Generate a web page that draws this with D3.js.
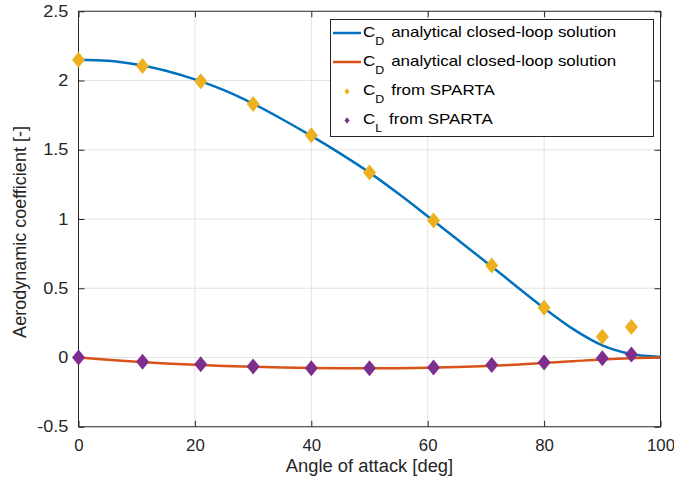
<!DOCTYPE html>
<html>
<head>
<meta charset="utf-8">
<script src="https://cdn.jsdelivr.net/npm/d3@7"></script>
<style>
  html, body { margin: 0; padding: 0; background: #fff; }
  svg { display: block; font-family: "Liberation Sans", Arial, Helvetica, sans-serif; }
</style>
</head>
<body>
<svg id="chart" width="674" height="484"></svg>
<script>
// Angle of attack (deg) for the SPARTA simulation points
const spartaAngles = [0, 11, 21, 30, 40, 50, 61, 71, 80, 90, 95];
const spartaCD = [2.15, 2.105, 1.995, 1.83, 1.605, 1.335, 0.99, 0.665, 0.36, 0.15, 0.22];
const spartaCL = [0, -0.03, -0.048, -0.065, -0.077, -0.078, -0.073, -0.055, -0.037, -0.005, 0.022];

// Analytical closed-loop solution, sampled every 5 deg
const curveAngles = [0, 5, 10, 15, 20, 25, 30, 35, 40, 45, 50, 55, 60, 65, 70, 75, 80, 85, 90, 95, 100];
const curveCD = [2.15, 2.142, 2.115, 2.07, 2.008, 1.93, 1.832, 1.72, 1.6, 1.472, 1.335, 1.182, 1.02, 0.855, 0.69, 0.522, 0.356, 0.205, 0.088, 0.025, 0.004];
const curveCL = [0, -0.017, -0.031, -0.043, -0.053, -0.061, -0.067, -0.072, -0.075, -0.077, -0.078, -0.077, -0.074, -0.069, -0.061, -0.052, -0.04, -0.027, -0.014, -0.005, 0];

const xTicks = [0, 20, 40, 60, 80, 100];
const yTicks = [-0.5, 0, 0.5, 1, 1.5, 2, 2.5];

const legendLabels = [
  { main: "C", sub: "D", rest: " analytical closed-loop solution", kind: "line", color: "#0072BD" },
  { main: "C", sub: "D", rest: " analytical closed-loop solution", kind: "line", color: "#D95319" },
  { main: "C", sub: "D", rest: " from SPARTA", kind: "marker", color: "#EDB120" },
  { main: "C", sub: "L", rest: " from SPARTA", kind: "marker", color: "#7E2F8E" }
];

const axisColor = "#262626";
const gridColor = "#e3e3e3";
const textStretch = 1.13; // glyphs are drawn slightly wide

const svg = d3.select("#chart");
const x = d3.scaleLinear().domain([0, 100]).range([78.5, 660.5]);
const y = d3.scaleLinear().domain([-0.5, 2.5]).range([426.75, 11.25]);

const [x0, x1] = x.range();
const [y0, y1] = y.range();

// Grid
const grid = svg.append("g");
grid.selectAll(".gx").data(xTicks.slice(1, -1)).join("line")
  .attr("x1", d => x(d)).attr("x2", d => x(d))
  .attr("y1", y0).attr("y2", y1)
  .attr("stroke", gridColor).attr("stroke-width", 1);
grid.selectAll(".gy").data(yTicks.slice(1, -1)).join("line")
  .attr("x1", x0).attr("x2", x1)
  .attr("y1", d => y(d)).attr("y2", d => y(d))
  .attr("stroke", gridColor).attr("stroke-width", 1);

// Axes with inward ticks on all four sides
const tickLen = 6;
const fmt = d => String(d);
function styleAxis(stretch) {
  return g => {
    g.selectAll("path").remove();
    g.selectAll("line").attr("stroke", axisColor).attr("stroke-width", 1);
    g.selectAll("text").attr("fill", axisColor).attr("font-size", 16)
      .attr("transform", `scale(${stretch},1)`);
  };
}
svg.append("g").attr("transform", `translate(0,${y0})`)
  .call(d3.axisBottom(x).tickValues(xTicks).tickFormat(fmt).tickSizeInner(-tickLen).tickSizeOuter(0))
  .call(styleAxis(1.05))
  .call(g => g.selectAll("text").attr("dy", "0.71em").attr("y", 13));
svg.append("g").attr("transform", `translate(${x0},0)`)
  .call(d3.axisLeft(y).tickValues(yTicks).tickFormat(fmt).tickSizeInner(-tickLen).tickSizeOuter(0))
  .call(styleAxis(textStretch))
  .call(g => g.selectAll("text").attr("x", -9));
svg.append("g").attr("transform", `translate(0,${y1})`)
  .call(d3.axisTop(x).tickValues(xTicks).tickFormat("").tickSizeInner(-tickLen).tickSizeOuter(0))
  .call(styleAxis(1));
svg.append("g").attr("transform", `translate(${x1},0)`)
  .call(d3.axisRight(y).tickValues(yTicks).tickFormat("").tickSizeInner(-tickLen).tickSizeOuter(0))
  .call(styleAxis(1));

// Axes box
svg.append("rect")
  .attr("x", x0).attr("y", y1).attr("width", x1 - x0).attr("height", y0 - y1)
  .attr("fill", "none").attr("stroke", axisColor).attr("stroke-width", 1);

// Axis titles
svg.append("text")
  .attr("transform", `translate(${(x0 + x1) / 2},472) scale(1.02,1)`)
  .attr("text-anchor", "middle").attr("font-size", 18).attr("fill", axisColor)
  .text("Angle of attack [deg]");
svg.append("text")
  .attr("transform", `translate(26,${(y0 + y1) / 2 + 13}) rotate(-90)`)
  .attr("text-anchor", "middle").attr("font-size", 18).attr("fill", axisColor)
  .text("Aerodynamic coefficient [-]");

// Analytical curves
const line = d3.line().curve(d3.curveMonotoneX);
const plot = svg.append("g");
plot.append("path")
  .attr("d", line(curveAngles.map((a, i) => [x(a), y(curveCD[i])])))
  .attr("fill", "none").attr("stroke", "#0072BD").attr("stroke-width", 2.5);
plot.append("path")
  .attr("d", line(curveAngles.map((a, i) => [x(a), y(curveCL[i])])))
  .attr("fill", "none").attr("stroke", "#D95319").attr("stroke-width", 2.5);

// Diamond markers
function diamond(hw, hh) {
  return `M0,${-hh}L${hw},0L0,${hh}L${-hw},0Z`;
}
plot.selectAll(".cd").data(spartaAngles).join("path")
  .attr("transform", (a, i) => `translate(${x(a)},${y(spartaCD[i])})`)
  .attr("d", diamond(6.5, 8)).attr("fill", "#EDB120");
plot.selectAll(".cl").data(spartaAngles).join("path")
  .attr("transform", (a, i) => `translate(${x(a)},${y(spartaCL[i])})`)
  .attr("d", diamond(6.5, 8)).attr("fill", "#7E2F8E");

// Legend
const leg = svg.append("g");
leg.append("rect")
  .attr("x", 330.5).attr("y", 19.5).attr("width", 323).attr("height", 117)
  .attr("fill", "#fff").attr("stroke", axisColor).attr("stroke-width", 1);
const rowBase = [37, 66, 95, 124];
legendLabels.forEach((d, i) => {
  const by = rowBase[i];
  if (d.kind === "line") {
    leg.append("line")
      .attr("x1", 333).attr("x2", 361).attr("y1", by - 4).attr("y2", by - 4)
      .attr("stroke", d.color).attr("stroke-width", 2.5);
  } else {
    leg.append("path")
      .attr("transform", `translate(347,${by - 3.5})`)
      .attr("d", diamond(2.5, 3.2)).attr("fill", d.color);
  }
  const t = leg.append("text")
    .attr("transform", `translate(363,${by}) scale(${textStretch},1)`)
    .attr("font-size", 15).attr("fill", "#000");
  t.append("tspan").text(d.main);
  t.append("tspan").attr("dy", 8).attr("font-size", 11).text(d.sub);
  t.append("tspan").attr("dy", -8).attr("dx", 2).text(d.rest);
});
</script>
</body>
</html>
